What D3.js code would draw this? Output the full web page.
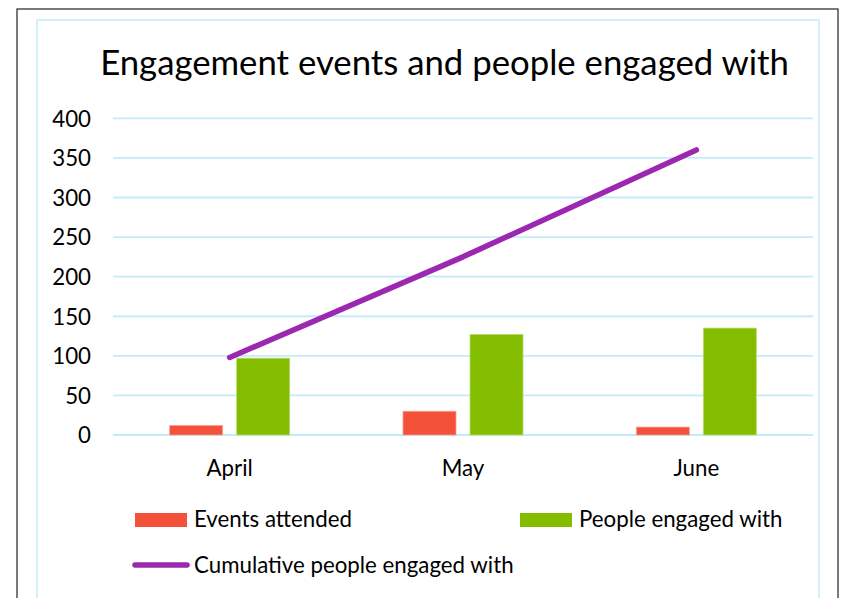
<!DOCTYPE html>
<html>
<head>
<meta charset="utf-8">
<script src="https://cdn.jsdelivr.net/npm/d3@7"></script>
<style>
  html, body { margin: 0; padding: 0; background: #fff; }
  svg { display: block; }
  text { font-family: Lato, "Open Sans", sans-serif; fill: #000; }
</style>
</head>
<body>
<svg id="chart" width="842" height="598"></svg>
<script>
const title = "Engagement events and people engaged with";
const months = ["April", "May", "June"];
const eventsAttended = [12, 30, 10];
const peopleEngaged = [97, 127, 135];
const cumulativePeople = [98, 225, 360];
const yTicks = [0, 50, 100, 150, 200, 250, 300, 350, 400];
const seriesNames = ["Events attended", "People engaged with", "Cumulative people engaged with"];
const colors = { events: "#F4513A", people: "#84BD00", cumulative: "#9C27B0", grid: "#C3ECFA" };

const svg = d3.select("#chart");

// Outer frames
svg.append("rect").attr("x", 17).attr("y", 9).attr("width", 821).attr("height", 600)
  .attr("fill", "#fff").attr("stroke", "#333").attr("stroke-width", 1.3);
svg.append("rect").attr("x", 37).attr("y", 20).attr("width", 782).attr("height", 600)
  .attr("fill", "none").attr("stroke", colors.grid).attr("stroke-width", 1.5);

function fit(sel, target) {
  let fs = parseFloat(sel.attr("font-size"));
  const w = sel.node().getComputedTextLength();
  if (w > 0) sel.attr("font-size", fs * target / w);
  return sel;
}

// Title
fit(svg.append("text").attr("x", 444.5).attr("y", 75).attr("text-anchor", "middle")
  .attr("font-size", 32).text(title), 689);

const x = d3.scaleBand().domain(months).range([113, 813]).padding(0);
const y = d3.scaleLinear().domain([0, 400]).range([435, 118.3]);

// common label font size from "Events attended" (target 158px)
const probe = svg.append("text").attr("font-size", 20).text(seriesNames[0]);
const labelFs = 20 * 158 / probe.node().getComputedTextLength();
probe.remove();

// Gridlines
svg.append("g").selectAll("line").data(yTicks).join("line")
  .attr("x1", 113).attr("x2", 813)
  .attr("y1", d => y(d)).attr("y2", d => y(d))
  .attr("stroke", colors.grid).attr("stroke-width", 1.8);

// Y axis labels
const yAxis = d3.axisLeft(y).tickValues(yTicks).tickSize(0).tickPadding(0);
const yg = svg.append("g").attr("transform", "translate(91,0)").call(yAxis);
yg.select(".domain").remove();
yg.selectAll("text").attr("font-size", labelFs).attr("font-family", "Lato, 'Open Sans', sans-serif")
  .attr("fill", "#000").attr("dy", "0.35em");

// X axis labels
const xAxis = d3.axisBottom(x).tickSize(0).tickPadding(0);
const xg = svg.append("g").attr("transform", "translate(0,476)").call(xAxis);
xg.select(".domain").remove();
xg.selectAll("text").attr("font-size", labelFs).attr("font-family", "Lato, 'Open Sans', sans-serif")
  .attr("fill", "#000").attr("dy", 0);

const barW = 53, gap = 14;
const center = m => x(m) + x.bandwidth() / 2;

// Bars
svg.append("g").selectAll("rect").data(months).join("rect")
  .attr("x", m => center(m) - gap / 2 - barW)
  .attr("y", (m, i) => y(eventsAttended[i]))
  .attr("width", barW)
  .attr("height", (m, i) => y(0) - y(eventsAttended[i]))
  .attr("fill", colors.events).attr("stroke", "#F8A090").attr("stroke-width", 0.8);

svg.append("g").selectAll("rect").data(months).join("rect")
  .attr("x", m => center(m) + gap / 2)
  .attr("y", (m, i) => y(peopleEngaged[i]))
  .attr("width", barW)
  .attr("height", (m, i) => y(0) - y(peopleEngaged[i]))
  .attr("fill", colors.people).attr("stroke", "#B8DB70").attr("stroke-width", 0.8);

// Line
const line = d3.line().x((d, i) => center(months[i])).y(d => y(d));
svg.append("path").datum(cumulativePeople).attr("d", line)
  .attr("fill", "none").attr("stroke", colors.cumulative).attr("stroke-width", 5.5)
  .attr("stroke-linecap", "round").attr("stroke-linejoin", "round");

// Legend
const lg = svg.append("g");
lg.append("rect").attr("x", 135).attr("y", 513).attr("width", 52).attr("height", 14).attr("fill", colors.events);
lg.append("text").attr("x", 194).attr("y", 527).attr("font-size", labelFs).text(seriesNames[0]);
lg.append("rect").attr("x", 520).attr("y", 513).attr("width", 52).attr("height", 14).attr("fill", colors.people);
lg.append("text").attr("x", 579).attr("y", 527).attr("font-size", labelFs).text(seriesNames[1]);
lg.append("line").attr("x1", 135).attr("x2", 187).attr("y1", 565).attr("y2", 565)
  .attr("stroke", colors.cumulative).attr("stroke-width", 5.5).attr("stroke-linecap", "round");
lg.append("text").attr("x", 194).attr("y", 573).attr("font-size", labelFs).text(seriesNames[2]);
</script>
</body>
</html>
